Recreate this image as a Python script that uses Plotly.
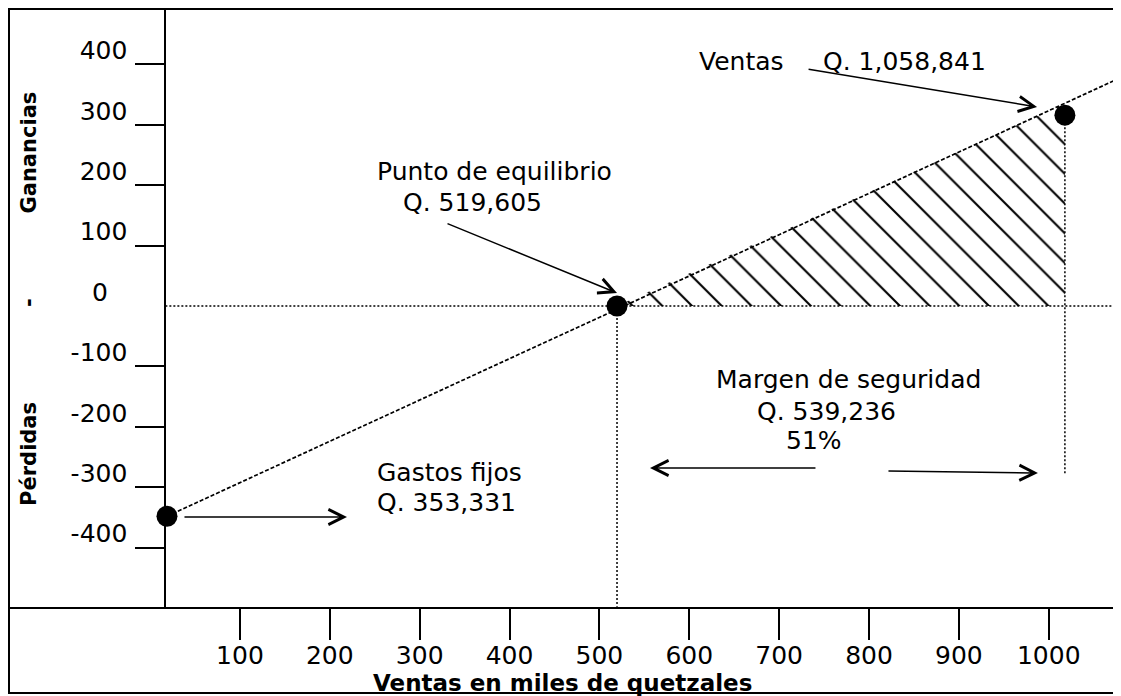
import plotly.graph_objects as go

# ---------------- data ----------------
x_tick_vals = [100, 200, 300, 400, 500, 600, 700, 800, 900, 1000]
x_tick_text = ["100", "200", "300", "400", "500", "600", "700", "800", "900", "1000"]
y_tick_vals = [-400, -300, -200, -100, 100, 200, 300, 400]
y_tick_text = ["-400", "-300", "-200", "-100", "100", "200", "300", "400"]

# key points: fixed costs (at the y axis), break-even, sales
point_x = [18.8, 519.605, 1018]
point_y = [-348, 0, 316]

# profit/loss line (dashed)
pl_line_x = [18.8, 1077]
pl_line_y = [-348, 376]

# zero line (dotted)
zero_x = [17, 1078]
zero_y = [0, 0]

# vertical drop lines (dotted)
be_drop_x = [519.605, 519.605]
be_drop_y = [0, -498]
sales_drop_x = [1018, 1018]
sales_drop_y = [316, -280]

# hatched profit area
hatch_x = [519.605, 1018, 1018]
hatch_y = [0, 335, 0]

# arrows: (tail_x, tail_y, tip_x, tip_y)
arrows = [
    (731.1, 392.4, 987.0, 329.5),    # Ventas
    (329.3, 137.4, 519.6, 21.5),     # Punto de equilibrio
    (36.6, -349.3, 219.1, -349.3),   # Gastos fijos
    (742.1, -268.2, 556.3, -268.2),  # Margen (left)
    (820.0, -273.2, 988.0, -276.5),  # Margen (right)
]

# text labels: (text, x, y, xanchor)
labels = [
    ("Ventas", 658.6, 404, "center"),
    ("Q. 1,058,841", 840.0, 404, "center"),
    ("Punto de equilibrio", 383.0, 222, "center"),
    ("Q. 519,605", 358.3, 172, "center"),
    ("Gastos fijos", 250.0, -275, "left"),
    ("Q. 353,331", 250.0, -326, "left"),
    ("Margen de seguridad", 777.7, -122, "center"),
    ("Q. 539,236", 752.2, -174, "center"),
    ("51%", 738.3, -223, "center"),
    ("0", -55.8, 23, "center"),
]

x_title = "Ventas en miles de quetzales"
y_title_parts = ["Ganancias", "-", "Pérdidas"]
y_title_pos = [0.760, 0.510, 0.256]

X_RANGE = [-157.0, 1078.2]
Y_RANGE = [-498.3, 491.7]
Y_AXIS_AT = 17

FONT = "DejaVu Sans"
BLACK = "black"
TXT = 25

fig = go.Figure()

fig.add_trace(go.Scatter(
    x=hatch_x, y=hatch_y, mode="lines", fill="toself",
    fillcolor="rgba(0,0,0,0)",
    fillpattern=dict(shape="\\", fgcolor=BLACK, bgcolor="rgba(0,0,0,0)",
                     size=21, solidity=0.1, fillmode="replace"),
    line=dict(width=0), hoverinfo="skip", showlegend=False))

for xs, ys in [(zero_x, zero_y), (be_drop_x, be_drop_y), (sales_drop_x, sales_drop_y)]:
    fig.add_trace(go.Scatter(x=xs, y=ys, mode="lines",
                             line=dict(color=BLACK, width=1.5, dash="2px,2px"),
                             showlegend=False))
fig.add_trace(go.Scatter(x=pl_line_x, y=pl_line_y, mode="lines",
                         line=dict(color=BLACK, width=1.7, dash="4px,2px"),
                         showlegend=False))
fig.add_trace(go.Scatter(x=point_x, y=point_y, mode="markers",
                         marker=dict(color=BLACK, size=21),
                         showlegend=False))

for tx, ty, hx, hy in arrows:
    fig.add_annotation(x=hx, y=hy, ax=tx, ay=ty, xref="x", yref="y",
                       axref="x", ayref="y", text="", showarrow=True,
                       arrowhead=5, arrowsize=2, arrowwidth=1.5,
                       arrowcolor=BLACK, standoff=0, startstandoff=0)

for text, lx, ly, anchor in labels:
    fig.add_annotation(x=lx, y=ly, xref="x", yref="y", text=text,
                       showarrow=False, xanchor=anchor, yanchor="middle",
                       font=dict(family=FONT, size=TXT, color=BLACK))

fig.add_annotation(x=0.499, y=-0.127, xref="paper", yref="paper", text="<b>" + x_title + "</b>",
                   showarrow=False, xanchor="center", yanchor="middle",
                   font=dict(family=FONT, size=23, color=BLACK))

for text, py in zip(y_title_parts, y_title_pos):
    fig.add_annotation(x=0.018, y=py, xref="paper", yref="paper", text="<b>" + text + "</b>",
                       showarrow=False, textangle=-90, xanchor="center", yanchor="middle",
                       font=dict(family=FONT, size=21, color=BLACK))

# outer frame
fig.add_shape(type="rect", xref="paper", yref="paper", x0=0, x1=1, y0=-0.1438, y1=1,
              line=dict(color=BLACK, width=2), fillcolor="rgba(0,0,0,0)", layer="above")

fig.update_layout(
    width=1113, height=688,
    margin=dict(l=1, r=2, t=1, b=89, pad=0),
    paper_bgcolor="white", plot_bgcolor="white",
    showlegend=False,
    xaxis=dict(range=X_RANGE, showgrid=False, zeroline=False,
               showline=True, linecolor=BLACK, linewidth=2,
               ticks="outside", ticklen=31, tickwidth=2, tickcolor=BLACK,
               tickvals=x_tick_vals, ticktext=x_tick_text, ticklabelstandoff=-6,
               tickfont=dict(family=FONT, size=TXT, color=BLACK)),
    yaxis=dict(range=Y_RANGE, showgrid=False, zeroline=False,
               anchor="free", position=(Y_AXIS_AT - X_RANGE[0]) / (X_RANGE[1] - X_RANGE[0]),
               showline=True, linecolor=BLACK, linewidth=2,
               ticks="outside", ticklen=29, tickwidth=2, tickcolor=BLACK,
               tickvals=y_tick_vals, ticktext=y_tick_text,
               ticklabelshift=-14, ticklabelstandoff=3,
               tickfont=dict(family=FONT, size=TXT, color=BLACK)),
)

fig.write_html("out.html")
